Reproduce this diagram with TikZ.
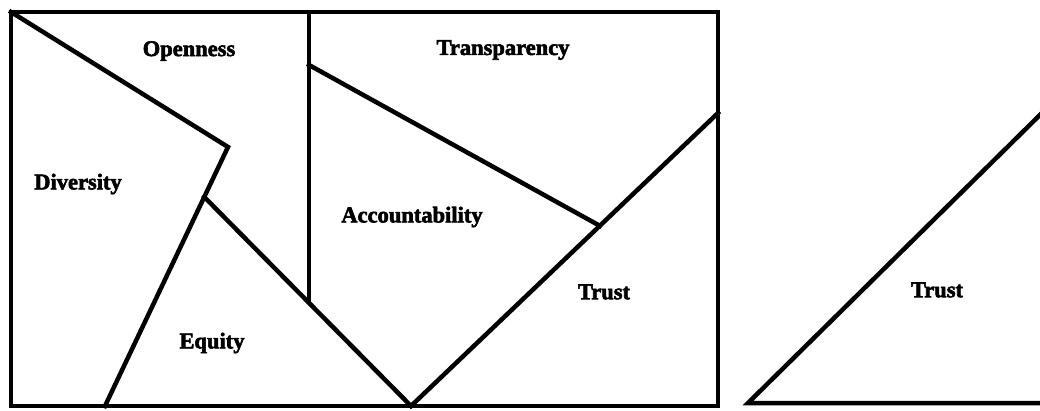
\documentclass[tikz,border=0pt]{standalone}
\usepackage{fontspec}
\setmainfont{Liberation Serif}
\newfontfamily\heavyfont[BoldFeatures={FakeBold=2.5}]{Liberation Serif}
\usetikzlibrary{calc,intersections}
\tikzset{
  piece/.style={line width=4.5pt, line join=miter, line cap=rect},
  lbl/.style={font=\heavyfont\fontsize{22.5}{26}\selectfont\bfseries, inner sep=0pt}
}
\begin{document}
\begin{tikzpicture}[x=1pt,y=-1pt]
\useasboundingbox (0,0) rectangle (1040,411);
% key points
\coordinate (TL) at (11,12);
\coordinate (TR) at (718,12);
\coordinate (BR) at (718,406);
\coordinate (BL) at (11,406);
\coordinate (DT) at (309,12);
\coordinate (K) at (228,147);
\coordinate (DB) at (105,406);
\coordinate (EQ) at ($(K)!0.193!(DB)$);
\coordinate (M) at (411,406);
\coordinate (TRr) at (718,113);
\coordinate (TA) at (309,65);
\coordinate (TX) at ($(M)!0.615!(TRr)$);
\coordinate (DV) at (309,302);
% outer frame
\draw[piece] (TL) rectangle (BR);
% vertical divider
\draw[piece] (DT) -- (DV);
% Openness / Diversity boundary
\draw[piece] (TL) -- (K) -- (DB);
% Equity boundary
\draw[piece] (EQ) -- (M);
% Trust boundary
\draw[piece] (M) -- (TRr);
% Transparency / Accountability boundary
\draw[piece] (TA) -- (TX);
% separate Trust triangle
\begin{scope}
\clip (0,0) rectangle (1040,411);
\coordinate (A) at (748,403);
\coordinate (B) at (1050,105);
\coordinate (C) at (1050,403);
\draw[piece] (B) -- (A) -- (C);
\end{scope}
% labels
\node[lbl] (open) at (189,51) {Openness};
\node[lbl] (div) at (78,184) {Diversity};
\node[lbl] (trans) at (503,50) {Transparency};
\node[lbl] (acc) at (412,217) {Accountability};
\node[lbl] (eq) at (212,343) {Equity};
\node[lbl] (tr1) at (604,292) {Trust};
\node[lbl] (tr2) at (937,290) {Trust};
\end{tikzpicture}
\end{document}
